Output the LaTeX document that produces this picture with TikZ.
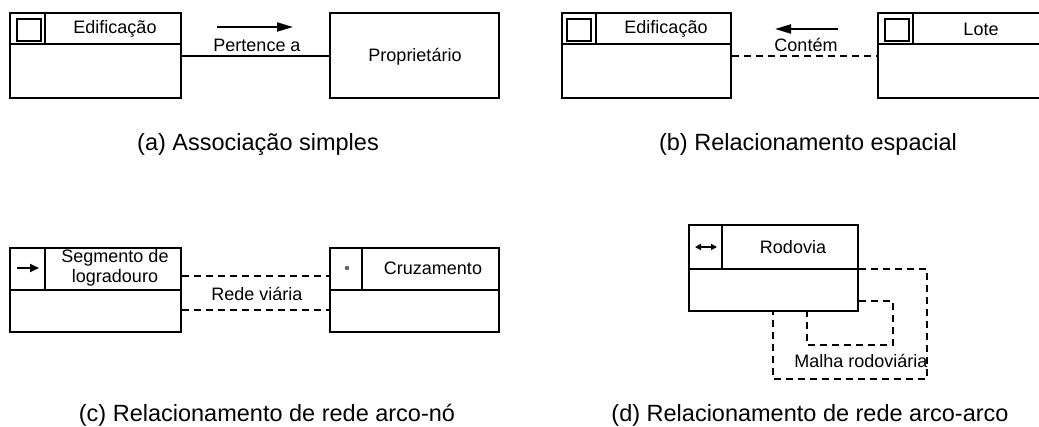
\documentclass[tikz,border=0pt]{standalone}
\usepackage{fontspec}
\setmainfont{Liberation Sans}
\usetikzlibrary{arrows.meta}
\tikzset{
  cls/.style={draw, rectangle, line width=2pt, inner sep=0pt},
  part/.style={line width=2pt},
  lbl/.style={inner sep=0pt, font=\fontsize{18}{19}\selectfont},
  captxt/.style={inner sep=0pt, font=\fontsize{23.5}{26}\selectfont},
  conn/.style={line width=2pt},
  dconn/.style={line width=2pt, dash pattern=on 7pt off 5pt},
  dir/.style={line width=2pt, -{Triangle[length=16pt,width=9pt]}},
  icon/.style={draw, rectangle, line width=1.8pt, inner sep=0pt, minimum width=24pt, minimum height=22pt}
}
\begin{document}
\begin{tikzpicture}[x=1pt,y=-1pt]
\useasboundingbox (0,0) rectangle (1039,426);
\clip (0,0) rectangle (1039,426);
\fill[white] (0,0) rectangle (1039,426);

% ---------- (a) ----------
\node[cls, minimum width=171pt, minimum height=85pt] (edA) at (95.5,55.5) {};
\draw[part] (10,44) -- (181,44);
\draw[part] (45,13) -- (45,44);
\node[icon] (icA) at (29,30) {};
\node[lbl] (tEdA) at (115,29) {Edificação};
\node[cls, minimum width=169pt, minimum height=85pt] (prop) at (414.5,55.5) {};
\node[lbl] (tProp) at (415,57) {Proprietário};
\draw[conn] (edA.east) -- (prop.west);
\coordinate (aS) at (217,27);
\coordinate (aE) at (293,27);
\draw[dir] (aS) -- (aE);
\node[lbl] (tPert) at (257,45) {Pertence a};
\node[captxt] (capA) at (258,144) {(a) Associação simples};

% ---------- (b) ----------
\node[cls, minimum width=169pt, minimum height=85pt] (edB) at (646.5,55.5) {};
\draw[part] (562,44) -- (731,44);
\draw[part] (596,13) -- (596,44);
\node[icon] (icB) at (579,30) {};
\node[lbl] (tEdB) at (666,29) {Edificação};
\node[cls, minimum width=169pt, minimum height=85pt] (lote) at (962.5,55.5) {};
\draw[part] (878,44) -- (1047,44);
\draw[part] (913,13) -- (913,44);
\node[icon] (icL) at (897,30) {};
\node[lbl] (tLote) at (981,29) {Lote};
\draw[dconn] (edB.east) -- (lote.west);
\coordinate (bS) at (838,29);
\coordinate (bE) at (775,29);
\draw[dir] (bS) -- (bE);
\node[lbl] (tCont) at (806,45) {Contém};
\node[captxt] (capB) at (808,144) {(b) Relacionamento espacial};

% ---------- (c) ----------
\node[cls, minimum width=171pt, minimum height=84pt] (seg) at (95.5,290) {};
\draw[part] (10,290) -- (181,290);
\draw[part] (45,248) -- (45,290);
\coordinate (cS) at (17,268);
\coordinate (cE) at (39,268);
\draw[line width=1.8pt, -{Triangle[length=9pt,width=8pt]}] (cS) -- (cE);
\node[lbl, align=center, font=\fontsize{18}{19.5}\selectfont] (tSeg) at (115,268) {Segmento de\\logradouro};
\node[cls, minimum width=169pt, minimum height=84pt] (cruz) at (414.5,290) {};
\draw[part] (330,290) -- (499,290);
\draw[part] (362,248) -- (362,290);
\fill[black!60] (347,268) circle (2.3pt);
\node[lbl] (tCruz) at (433,268) {Cruzamento};
\draw[dconn] ([yshift=14pt]seg.east) -- ([yshift=14pt]cruz.west);
\draw[dconn] ([yshift=-20pt]seg.east) -- ([yshift=-20pt]cruz.west);
\node[lbl] (tRede) at (257,294) {Rede viária};
\node[captxt] (capC) at (267,415) {(c) Relacionamento de rede arco-nó};

% ---------- (d) ----------
\node[cls, minimum width=169pt, minimum height=86pt] (rod) at (773.5,268) {};
\draw[part] (689,269) -- (858,269);
\draw[part] (722,225) -- (722,269);
\coordinate (dS) at (695,247);
\coordinate (dE) at (717,247);
\draw[line width=1.5pt, {Triangle[length=6pt,width=6pt]}-{Triangle[length=6pt,width=6pt]}] (dS) -- (dE);
\node[lbl] (tRod) at (793,247) {Rodovia};
\coordinate (o1) at (927,269);
\coordinate (o2) at (927,379);
\coordinate (o3) at (773,379);
\coordinate (i1) at (893,301);
\coordinate (i2) at (893,345);
\coordinate (i3) at (807,345);
\draw[dconn] (rod.east |- o1) -- (o1) -- (o2) -- (o3) -- (o3 |- rod.south);
\draw[dconn] (rod.east |- i1) -- (i1) -- (i2) -- (i3) -- (i3 |- rod.south);
\node[lbl] (tMalha) at (861,361) {Malha rodoviária};
\node[captxt] (capD) at (810,415) {(d) Relacionamento de rede arco-arco};
\end{tikzpicture}
\end{document}
